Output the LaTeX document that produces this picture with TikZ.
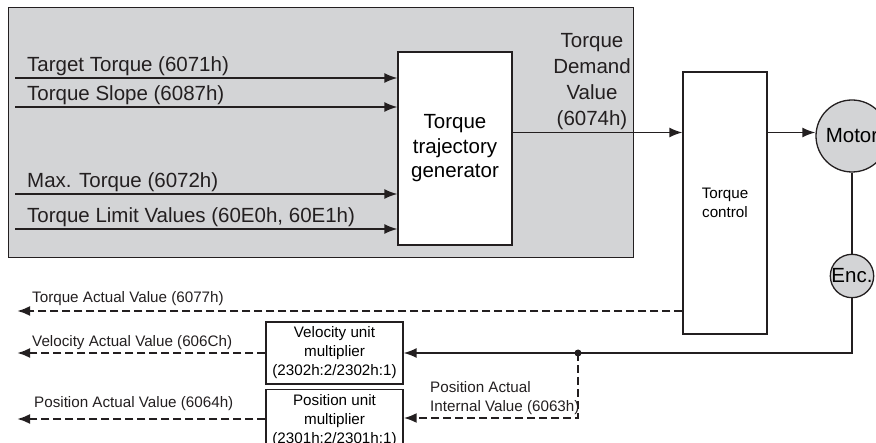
\documentclass[tikz,border=0pt]{standalone}
\usepackage{fontspec}
\setmainfont{Liberation Sans}
\usetikzlibrary{arrows.meta}
\definecolor{panelgray}{RGB}{211,212,214}
\definecolor{ink}{RGB}{35,31,32}

\begin{document}
\begin{tikzpicture}[x=1pt,y=-1pt,
  big/.style={font=\fontsize{20.5}{24.5}\selectfont},
  small/.style={font=\fontsize{15.2}{19}\selectfont},
  blk/.style={draw=ink,fill=white,line width=1.3pt,inner sep=0pt,align=center},
  disc/.style={circle,draw=ink,fill=panelgray,line width=1.3pt,inner sep=0pt,big},
  txt/.style={inner sep=0pt,anchor=base west,text=ink},
  arr/.style={color=ink,line width=1.5pt,-{Latex[length=13pt,width=10pt]}},
  dsh/.style={arr,line width=2.3pt,dash pattern=on 8pt off 4pt}]
  \clip (0,0) rectangle (876,443);
  \draw[draw=ink,fill=panelgray,line width=1pt] (8,8) rectangle (633,258);
  \node[blk,big,minimum width=114pt,minimum height=193pt] (gen) at (455,148.5) {Torque\\trajectory\\generator};
  \node[blk,small,minimum width=84pt,minimum height=262pt] (ctrl) at (725,203) {Torque\\control};
  \node[blk,small,minimum width=137pt,minimum height=62pt] (vel) at (334.5,353) {Velocity unit\\multiplier\\(2302h:2/2302h:1)};
  \node[blk,small,minimum width=137pt,minimum height=62pt] (pos) at (334.5,420.5) {Position unit\\multiplier\\(2301h:2/2301h:1)};
  \node[disc,minimum size=72pt] (mot) at (852,136) {Motor};
  \node[disc,minimum size=42pt] (enc) at (852,276) {Enc.};
  % inputs of the generator
  \foreach \y/\name in {78/in1,107/in2,194/in3,229/in4}
    \coordinate (\name) at (15,\y);
  \path[arr]
    (in1) edge (in1 -| gen.west)
    (in2) edge (in2 -| gen.west)
    (in3) edge (in3 -| gen.west)
    (in4) edge (in4 -| gen.west);
  \node[txt,big] (tt) at (27,72) {Target Torque (6071h)};
  \node[txt,big] (ts) at (27,101) {Torque Slope (6087h)};
  \node[txt,big] (mt) at (27,188) {Max. Torque (6072h)};
  \node[txt,big] (tl) at (27,223) {Torque Limit Values (60E0h, 60E1h)};
  % demand value to the motor
  \coordinate (dem) at ([yshift=16pt]gen.east);
  \path[arr]
    (dem) edge (dem -| ctrl.west)
    (dem -| ctrl.east) edge (dem -| mot.west);
  \node[inner sep=0pt,align=center,text=ink,font=\fontsize{20.5}{26}\selectfont] (tdv) at (592,82) {Torque\\Demand\\Value\\(6074h)};
  % feedback
  \draw[draw=ink,line width=1.3pt] (mot) -- (enc);
  \draw[arr] (enc) |- (vel.east);
  \coordinate (tap) at (578,353);
  \fill[ink] (tap) circle (3.5pt);
  \draw[dsh] (tap) |- ([yshift=2.5pt]pos.east);
  \node[txt,small] (pai1) at (430,393) {Position Actual};
  \node[txt,small] (pai2) at (430,412) {Internal Value (6063h)};
  % actual values
  \coordinate (tav) at (17,311);
  \draw[dsh] (tav -| ctrl.west) -- (tav);
  \draw[dsh] (vel) -- (vel -| tav);
  \draw[dsh] ([yshift=1.5pt]pos.west) -- ([yshift=1.5pt]pos.west -| tav);
  \node[txt,small] (tavl) at (32,303) {Torque Actual Value (6077h)};
  \node[txt,small] (vavl) at (32,347) {Velocity Actual Value (606Ch)};
  \node[txt,small] (pavl) at (34,408) {Position Actual Value (6064h)};
\end{tikzpicture}
\end{document}
